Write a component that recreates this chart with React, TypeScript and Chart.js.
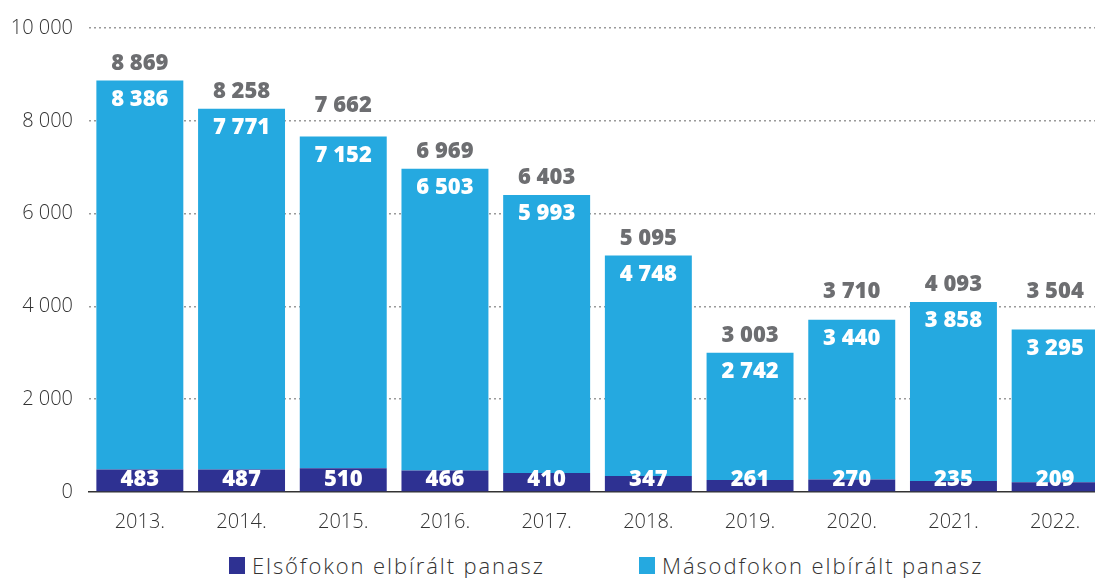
import React, { useEffect, useRef } from "react";
import { Chart, registerables } from "chart.js";

Chart.register(...registerables);

const categories = ["2013.", "2014.", "2015.", "2016.", "2017.", "2018.", "2019.", "2020.", "2021.", "2022."];
const firstInstance = [483, 487, 510, 466, 410, 347, 261, 270, 235, 209];
const secondInstance = [8386, 7771, 7152, 6503, 5993, 4748, 2742, 3440, 3858, 3295];
const totals = [8869, 8258, 7662, 6969, 6403, 5095, 3003, 3710, 4093, 3504];
const yTicks = [0, 2000, 4000, 6000, 8000, 10000];

const seriesNames = ["Elsőfokon elbírált panasz", "Másodfokon elbírált panasz"];
const colors = ["#2e3192", "#25a9e0"];

const fmt = (v: number) => {
  const s = String(Math.round(v));
  return s.replace(/\B(?=(\d{3})+(?!\d))/g, " ");
};

const LIGHT_FONT = "'Open Sans', sans-serif";
const BOLD_FONT = "'Open Sans', sans-serif";

const labelPlugin = {
  id: "barLabels",
  afterDatasetsDraw(chart: any) {
    const ctx = chart.ctx;
    const yScale = chart.scales.y;
    const meta0 = chart.getDatasetMeta(0);
    const meta1 = chart.getDatasetMeta(1);
    const gridYs = yTicks.map((v) => yScale.getPixelForValue(v));
    ctx.save();
    ctx.textAlign = "center";
    ctx.textBaseline = "middle";
    ctx.font = `800 22px ${BOLD_FONT}`;
    const base = yScale.getPixelForValue(0);
    meta1.data.forEach((bar: any, i: number) => {
      const top = yScale.getPixelForValue(totals[i]);
      let cy = top - 17;
      // keep the total label clear of a grid line: lift it above the line
      for (const g of gridYs) {
        if (g > cy - 11 && g < cy + 11) {
          cy = g - 15;
        }
      }
      ctx.fillStyle = "#6d6e71";
      ctx.fillText(fmt(totals[i]), bar.x, cy);
      ctx.fillStyle = "#ffffff";
      ctx.fillText(fmt(secondInstance[i]), bar.x, bar.y + 19);
    });
    meta0.data.forEach((bar: any, i: number) => {
      ctx.fillStyle = "#ffffff";
      ctx.fillText(fmt(firstInstance[i]), bar.x, base - 12);
    });
    ctx.restore();
  },
};

export default function App() {
  const ref = useRef<HTMLCanvasElement>(null);
  useEffect(() => {
    document.body.style.overflow = "hidden";
    const chart = new Chart(ref.current!, {
      type: "bar",
      data: {
        labels: categories,
        datasets: [
          { label: seriesNames[0], data: firstInstance, backgroundColor: colors[0], borderWidth: 0 },
          { label: seriesNames[1], data: secondInstance, backgroundColor: colors[1], borderWidth: 0 },
        ],
      },
      options: {
        animation: false,
        responsive: false,
        maintainAspectRatio: false,
        layout: { padding: { top: 25, right: 4, left: 0, bottom: 0 } },
        plugins: { legend: { display: false }, tooltip: { enabled: false } },
        datasets: { bar: { categoryPercentage: 1, barPercentage: 0.855 } },
        scales: {
          x: {
            stacked: true,
            grid: { display: false },
            border: { display: true, color: "#333333", width: 1.5 },
            ticks: { color: "#333333", font: { family: LIGHT_FONT, size: 20, weight: 300 }, padding: 10 },
            afterFit(scale: any) {
              scale.height = 48;
            },
          },
          y: {
            stacked: true,
            min: 0,
            max: 10000,
            afterBuildTicks(scale: any) {
              scale.ticks = yTicks.map((v) => ({ value: v }));
            },
            grid: {
              drawTicks: false,
              color: (c: any) => (c.tick && c.tick.value === 0 ? "rgba(0,0,0,0)" : "#9a9a9a"),
              lineWidth: 1.5,
            },
            border: { display: false, dash: [2, 3] },
            ticks: {
              color: "#333333",
              padding: 16,
              font: { family: LIGHT_FONT, size: 20, weight: 300 },
              callback: (v: any) => fmt(Number(v)),
            },
            afterFit(scale: any) {
              scale.width = 89;
            },
          },
        },
      },
      plugins: [labelPlugin],
    });
    return () => chart.destroy();
  }, []);

  const legendItem = (i: number, left: number) => (
    <div
      key={i}
      style={{
        position: "absolute",
        left,
        top: 548,
        display: "flex",
        alignItems: "center",
        height: 34,
        fontFamily: LIGHT_FONT,
        fontWeight: 300,
        fontSize: 22,
        letterSpacing: "1.9px",
        color: "#333333",
        whiteSpace: "nowrap",
      }}
    >
      <span style={{ display: "inline-block", width: 16, height: 17, background: colors[i], marginRight: 7 }} />
      <span>{seriesNames[i]}</span>
    </div>
  );

  return (
    <div style={{ position: "fixed", left: 0, top: 0, width: 1110, height: 578, overflow: "hidden", background: "#fff" }}>
      <canvas ref={ref} width={1110} height={540} style={{ position: "absolute", left: 0, top: 0 }} />
      {legendItem(0, 229)}
      {legendItem(1, 639)}
    </div>
  );
}
